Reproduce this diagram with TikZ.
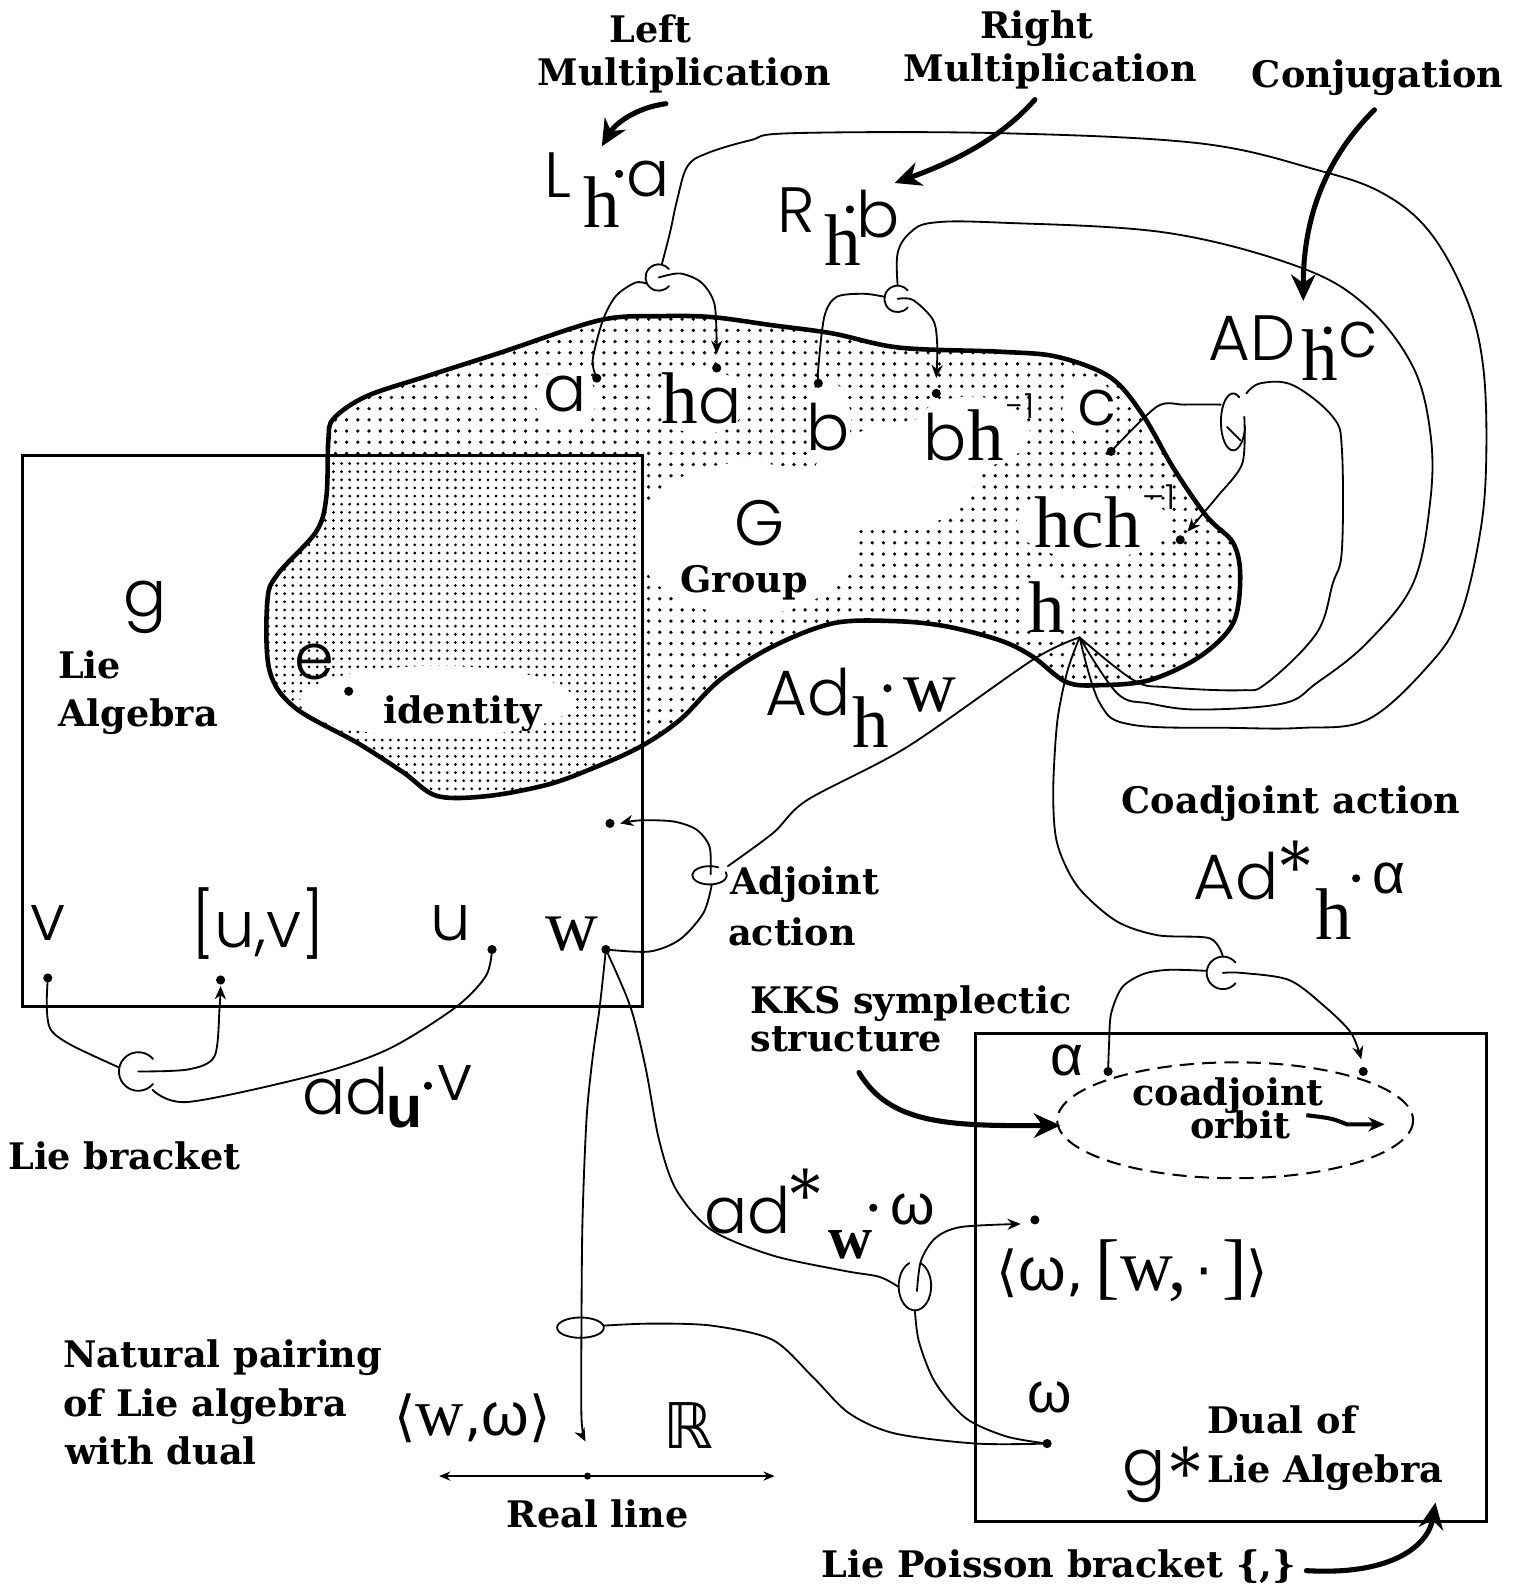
\documentclass[tikz,border=0pt]{standalone}
\usepackage{fontspec}
\usetikzlibrary{arrows.meta,patterns.meta,calc}
\newfontfamily\lblf{DejaVu Serif}
\newfontfamily\smf{Poppins Light}
\newfontfamily\srf{Liberation Serif}
\newfontfamily\dvs{DejaVu Sans}
\newfontfamily\lbs{Liberation Sans}
\def\blobpath{plot[smooth cycle, tension=0.55] coordinates {(328,412) (360,390) (420,370) (492,347) (590,315) (650,311) (701,312) (760,320) (819,328) (885,342) (984,346) (1040,351) (1092,371) (1124,408) (1154,460) (1187,508) (1213,534) (1220,567) (1213,613) (1180,646) (1131,669) (1082,674) (1049,671) (1016,646) (984,630) (930,616) (880,611) (820,613) (760,636) (708,669) (669,708) (629,735) (580,757) (538,772) (480,783) (430,783) (397,760) (352,731) (290,696) (265,659) (263,591) (273,565) (311,523) (321,489) (323,433)}}
\begin{document}
\begin{tikzpicture}[x=1pt,y=-1pt,
  lbl/.style={font=\lblf\bfseries\fontsize{36}{42}\selectfont, inner sep=0pt},
  sm/.style={font=\smf\fontsize{63}{70}\selectfont, inner sep=0pt},
  sr/.style={font=\srf\fontsize{72}{80}\selectfont, inner sep=0pt},
  gk/.style={font=\lbs\fontsize{56}{60}\selectfont, inner sep=0pt},
  supx/.style={font=\smf\fontsize{34}{36}\selectfont, inner sep=0pt},
  ast/.style={font=\smf\fontsize{80}{90}\selectfont, inner sep=0pt, anchor=base},
  conn/.style={line width=1.8pt, line join=round, line cap=round},
  thk/.style={line width=5pt, line cap=round},
  dotn/.style={circle, fill=black, inner sep=0pt, minimum size=9pt},
  sdot/.style={circle, fill=black, inner sep=0pt, minimum size=8pt},
  tip/.style={-{Stealth[length=13pt,width=11pt]}},
  bigtip/.style={-{Stealth[length=26pt,width=24pt]}},
  wpatch/.style={fill=white, draw=none}]
\useasboundingbox (0,0) rectangle (1489,1568);
\fill[white] (0,0) rectangle (1489,1568);

% ---- group blob fill
\fill[pattern={Dots[distance=11pt,radius=1.8pt]}] \blobpath;
\begin{scope}
  \clip (22,448) rectangle (632,990);
  \fill[white] \blobpath;
  \fill[pattern={Dots[distance=8pt,radius=1.5pt]}] \blobpath;
\end{scope}
\begin{scope}
  \clip \blobpath;
  \fill[wpatch] (735,530) ellipse [x radius=110, y radius=75];
  \fill[wpatch] (556,392) ellipse [x radius=30, y radius=30];
  \fill[wpatch] (690,395) ellipse [x radius=44, y radius=32];
  \fill[wpatch] (815,415) ellipse [x radius=22, y radius=40];
  \fill[wpatch] (955,425) ellipse [x radius=58, y radius=35];
  \fill[wpatch] (1070,400) ellipse [x radius=25, y radius=30];
  \fill[wpatch] (1075,515) ellipse [x radius=75, y radius=35];
  \fill[wpatch] (1030,595) ellipse [x radius=25, y radius=32];
  \fill[wpatch] (430,690) ellipse [x radius=135, y radius=35];
  \fill[wpatch] (880,470) ellipse [x radius=80, y radius=50];
\end{scope}
\draw[line width=4.5pt, line join=round] \blobpath;

% ---- boxes
\draw[line width=3pt] (22,448) rectangle (632,990);
\draw[line width=3pt] (960,1017) rectangle (1462,1497);

% ---- labels
\node[lbl, anchor=base] (tLeft) at (640,42) {Left};
\node[lbl, anchor=base] (tLM) at (673,84) {Multiplication};
\node[lbl, anchor=base] (tRight) at (1020,38) {Right};
\node[lbl, anchor=base] (tRM) at (1033,80) {Multiplication};
\node[lbl, anchor=base] (tConj) at (1355,86) {Conjugation};
\node[lbl, anchor=base] (tGroup) at (732,583) {Group};
\node[lbl, anchor=base] (tIdent) at (455,712) {identity};
\node[lbl, anchor=base west] (tLie) at (57,667) {Lie};
\node[lbl, anchor=base west] (tAlg) at (57,715) {Algebra};
\node[lbl, anchor=base west] (tAdj) at (718,880) {Adjoint};
\node[lbl, anchor=base west] (tAct) at (716,930) {action};
\node[lbl, anchor=base] (tCoad) at (1270,800) {Coadjoint action};
\node[lbl, anchor=base west] (tKKS) at (738,997) {KKS symplectic};
\node[lbl, anchor=base west] (tStr) at (738,1034) {structure};
\node[lbl, anchor=base] (tco) at (1208,1087) {coadjoint};
\node[lbl, anchor=base] (torb) at (1220,1120) {orbit};
\node[lbl, anchor=base west] (tLB) at (8,1150) {Lie bracket};
\node[lbl, anchor=base west] (tNP1) at (62,1345) {Natural pairing};
\node[lbl, anchor=base west] (tNP2) at (62,1393) {of Lie algebra};
\node[lbl, anchor=base west] (tNP3) at (64,1441) {with dual};
\node[lbl, anchor=base] (tReal) at (588,1503) {Real line};
\node[lbl, anchor=base west] (tDual) at (1188,1410) {Dual of};
\node[lbl, anchor=base west] (tLA) at (1188,1458) {Lie Algebra};
\node[lbl, anchor=base west] (tLP) at (808,1552) {Lie Poisson bracket \{,\}};

% ---- symbols
\node[sm] (sL) at (549,172) {L};
\node[sr] (sLh) at (592,199) {h};
\node[sdot] (sLd) at (609,171) {};
\node[sm] (sLa) at (638,176) {a};
\node[sm] (sR) at (783,207) {R};
\node[sr] (sRh) at (829,236) {h};
\node[sdot] (sRd) at (836,206) {};
\node[sm] (sRb) at (864,211) {b};
\node[sm] (sAD) at (1232,333) {AD};
\node[sr] (sADh) at (1298,349) {h};
\node[sdot] (sADd) at (1306,325) {};
\node[sm] (sADc) at (1336,334) {c};

\node[sm] (ba) at (556,388) {a};
\node[sm] (bha) at (690,392) {{\srf\fontsize{72}{80}\selectfont h}a};
\node[sm] (bb) at (815,420) {b};
\node[sm] (bbh) at (948,428) {b{\srf\fontsize{72}{80}\selectfont h}};
\node[supx] (bbhs) at (1004,399) {-1};
\node[sm] (bc) at (1079,401) {c};
\node[sr] (bhch) at (1070,514) {hch};
\node[supx] (bhchs) at (1140,489) {–1};
\node[sr] (bh) at (1030,597) {h};
\node[sm] (bG) at (747,515) {G};
\node[sm] (lg) at (143,597) {g};
\node[sm] (le) at (309,651) {e};

\node[sm] (lv) at (47,908) {v};
\node[sm] (luv) at (254,908) {[u,v]};
\node[sm] (lu) at (443,908) {u};
\node[sr] (lw) at (563,919) {w};

\node[sm] (sAdw) at (795,681) {Ad};
\node[sr] (sAdwh) at (857,710) {h};
\node[sdot] (sAdwd) at (873,677) {};
\node[sr] (sAdww) at (915,684) {w};

\node[sm, anchor=east] (sCo) at (1258,862) {Ad};
\node[ast] (sCos) at (1274,886) {\smash{*}};
\node[sr] (sCoh) at (1312,899) {h};
\node[sdot] (sCod) at (1334,864) {};
\node[gk] (sCoa) at (1366,864) {α};

\node[sm] (sadu) at (340,1073) {ad};
\node[font=\lbs\bfseries\fontsize{58}{60}\selectfont, inner sep=0pt] (saduu) at (398,1094) {u};
\node[sdot] (sadud) at (421,1068) {};
\node[sm] (saduv) at (448,1065) {v};

\node[sm, anchor=east] (sads) at (778,1190) {ad};
\node[ast] (sadss) at (792,1208) {\smash{*}};
\node[font=\srf\bfseries\fontsize{60}{60}\selectfont, inner sep=0pt] (sadsw) at (837,1224) {w};
\node[sdot] (sadsd) at (859,1188) {};
\node[gk] (sadso) at (898,1190) {ω};

\node[font=\dvs\fontsize{54}{60}\selectfont, inner sep=0pt] (spair) at (465,1395) {⟨{\srf\fontsize{66}{70}\selectfont w},{\lbs\fontsize{60}{60}\selectfont ω}⟩};
\node[font=\dvs\fontsize{62}{70}\selectfont, inner sep=0pt] (sR2) at (677,1402) {ℝ};
\node[font=\dvs\fontsize{54}{60}\selectfont, inner sep=0pt] (sbr) at (1114,1250) {⟨{\lbs\fontsize{60}{60}\selectfont ω},{\srf\fontsize{72}{80}\selectfont\,[w,}\,·\,{\srf\fontsize{72}{80}\selectfont ]}⟩};
\node[gk] (som) at (1033,1375) {ω};
\node[gk] (sal) at (1050,1043) {α};
\node[sm] (sgs) at (1125,1452) {g};
\node[ast] (sgss) at (1166,1482) {\smash{*}};

% ---- dots
\node[dotn] (dA) at (587,372) {};
\node[dotn] (dHA) at (705,362) {};
\node[dotn] (dB) at (805,377) {};
\node[dotn] (dBH) at (921,387) {};
\node[dotn] (dC) at (1093,444) {};
\node[dotn] (dHCH) at (1161,531) {};
\node[dotn] (dE) at (343,680) {};
\node[dotn] (dV) at (47,962) {};
\node[dotn] (dUV) at (217,964) {};
\node[dotn] (dU) at (484,934) {};
\node[dotn] (dW) at (596,934) {};
\node[dotn] (dAdj) at (600,810) {};
\node[dotn] (dAl) at (1090,1054) {};
\node[dotn] (dAl2) at (1341,1054) {};
\node[dotn] (dBr) at (1018,1200) {};
\node[dotn] (dOm) at (1030,1420) {};
\node[dotn, minimum size=7pt] (dR) at (578,1452) {};
\coordinate (hT) at (1062,627);
\coordinate (rlL) at (432,1452);
\coordinate (rlR) at (762,1452);

% ---- loops
\coordinate (cL) at (648,273);
\coordinate (cR) at (883,294);
\coordinate (cAD) at (1213,415);
\coordinate (cAdj) at (698,861);
\coordinate (cLB) at (136,1054);
\coordinate (cNP) at (571,1306);
\coordinate (cads) at (900,1265);
\coordinate (cCo) at (1203,957);
\draw[conn] ($(cL)+(40:13)$) arc (40:320:13);
\draw[conn] ($(cR)+(40:13)$) arc (40:320:13);
\draw[conn] ($(cLB)+(40:19)$) arc (40:320:19);
\draw[conn] ($(cCo)+(40:16)$) arc (40:320:16);
\draw[conn] ($(cAD)+(10:12 and 28)$) arc[start angle=10, end angle=300, x radius=12, y radius=28];
\draw[conn] (1207,420) -- (1220,433);
\draw[conn] ($(cAdj)+(-20:17 and 9)$) arc[start angle=-20, end angle=300, x radius=17, y radius=9];
\draw[conn] (cNP) ellipse [x radius=23, y radius=10];
\draw[conn] ($(cads)+(-70:16 and 24)$) arc[start angle=-70, end angle=250, x radius=16, y radius=24];

% ---- connectors: left multiplication
\draw[conn] plot[smooth] coordinates {(dA) (583,354) (593,315) (606,291) (625,278) (636,279)};
\draw[conn,tip] plot[smooth] coordinates {(cL) (669,269) (690,278) (703,300) (705,348)};
\draw[conn] plot[smooth, tension=0.6] coordinates {(651,260) (659,229) (666,197) (676,164) (695,151) (738,138) (780,131) (984,131) (1180,141) (1295,167) (1360,190) (1407,229) (1443,295) (1459,361) (1462,450) (1456,524) (1436,607) (1404,656) (1345,708) (1280,716) (1213,716) (1114,713) (1082,692) (hT)};
% right multiplication
\draw[conn] plot[smooth] coordinates {(dB) (805,361) (811,311) (823,292) (850,289) (870,292)};
\draw[conn,tip] plot[smooth] coordinates {(cR) (898,295) (918,315) (922,341) (921,372)};
\draw[conn] plot[smooth, tension=0.6] coordinates {(883,281) (883,249) (895,229) (918,219) (984,219) (1148,229) (1279,263) (1345,302) (1390,361) (1407,426) (1407,492) (1390,574) (1344,633) (1295,672) (1262,692) (1180,698) (1131,692) (1099,682) (hT)};
% conjugation
\draw[conn] plot[smooth] coordinates {(dC) (1138,400) (1165,398) (1201,398)};
\draw[conn,tip] plot[smooth] coordinates {(1224,410) (1222,456) (1197,489) (1168,523)};
\draw[conn] plot[smooth, tension=0.6] coordinates {(1226,387) (1240,377) (1272,379) (1311,410) (1320,442) (1320,541) (1311,574) (1295,623) (1246,672) (1220,679) (1148,676) (1115,669) (hT)};
% adjoint action
\draw[conn] plot[smooth] coordinates {(hT) (1016,649) (892,735) (794,787) (761,819) (716,852)};
\draw[conn] plot[smooth] coordinates {(dW) (639,936) (669,924) (692,898) (700,871)};
\draw[conn,tip] plot[smooth] coordinates {(699,860) (698,833) (685,816) (662,808) (629,807) (610,810)};
% coadjoint action
\draw[conn] plot[smooth] coordinates {(hT) (1050,660) (1040,710) (1036,780) (1040,830) (1060,872) (1098,906) (1139,920) (1190,923) (1203,941)};
\draw[conn] plot[smooth] coordinates {(dAl) (1091,1026) (1093,997) (1104,971) (1125,958) (1150,954) (1187,955)};
\draw[conn,tip] plot[smooth] coordinates {(cCo) (1221,957) (1268,964) (1303,990) (1329,1016) (1339,1042)};
% lie bracket
\draw[conn] plot[smooth] coordinates {(dV) (46,991) (50,1013) (70,1028) (117,1050)};
\draw[conn] plot[smooth] coordinates {(dU) (478,960) (448,991) (382,1032) (307,1058) (185,1084) (150,1072)};
\draw[conn,tip] plot[smooth] coordinates {(cLB) (185,1052) (211,1039) (216,991) (217,970)};
% w lines
\draw[conn,tip] plot[smooth] coordinates {(dW) (590,990) (583,1040) (577,1100) (573,1200) (572,1300) (572,1395) (576,1418)};
\draw[conn] plot[smooth] coordinates {(dW) (620,990) (635,1050) (648,1120) (665,1170) (700,1210) (760,1235) (830,1250) (865,1256) (884,1266)};
% natural pairing
\draw[conn] plot[smooth] coordinates {(594,1304) (640,1302) (700,1304) (760,1318) (800,1355) (835,1390) (880,1410) (960,1420) (dOm)};
% coadjoint of lie algebra
\draw[conn,tip] plot[smooth] coordinates {(902,1270) (906,1240) (920,1218) (945,1207) (1004,1204)};
\draw[conn] plot[smooth] coordinates {(900,1289) (904,1320) (920,1360) (950,1395) (990,1413) (dOm)};
% real line
\draw[conn,{Stealth[length=11pt,width=9pt]}-{Stealth[length=11pt,width=9pt]}] (rlL) -- (rlR);

% ---- thick arrows
\draw[thk,bigtip] (655,102) .. controls (625,106) and (605,122) .. (592,144);
\draw[thk,bigtip] (1018,98) .. controls (990,130) and (950,155) .. (880,180);
\draw[thk,bigtip] (1352,108) .. controls (1300,160) and (1282,220) .. (1282,296);
\draw[thk,bigtip] (845,1055) .. controls (875,1105) and (930,1108) .. (1043,1107);
\draw[line width=4pt,-{Stealth[length=16pt,width=14pt]}] (1285,1097) .. controls (1310,1100) .. (1325,1106) -- (1362,1106);
\draw[thk,bigtip] (1285,1545) .. controls (1370,1550) and (1405,1520) .. (1412,1478);

% ---- dashed orbit
\draw[line width=2pt, dash pattern=on 14pt off 8pt] (1215,1102) ellipse [x radius=175, y radius=57];
\end{tikzpicture}
\end{document}
